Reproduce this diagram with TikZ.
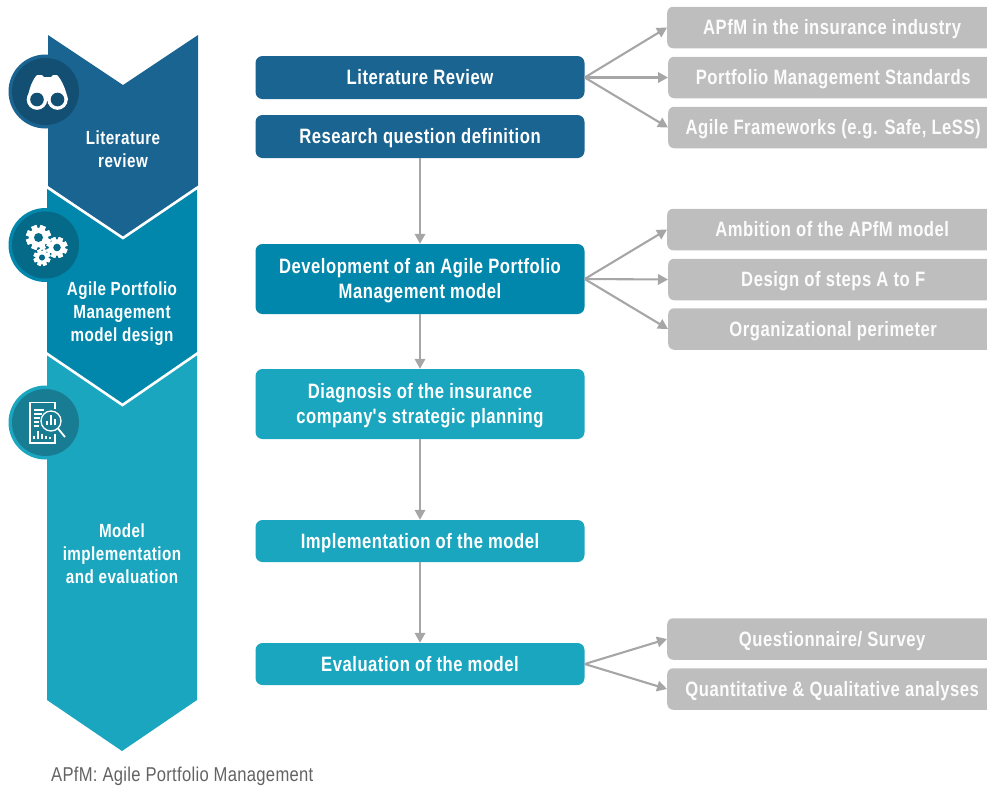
\documentclass[tikz,border=0pt]{standalone}
\usepackage{fontspec}
\setmainfont[FakeStretch=0.8,LetterSpace=2.5]{Liberation Sans}
\newfontfamily\notefont[FakeStretch=0.83,LetterSpace=1.5]{Liberation Sans}
\usetikzlibrary{arrows.meta}

\definecolor{navy}{HTML}{1A6491}
\definecolor{navydark}{HTML}{134F72}
\definecolor{petrol}{HTML}{0187AB}
\definecolor{petroldark}{HTML}{046A87}
\definecolor{teal}{HTML}{1BA6C0}
\definecolor{tealdark}{HTML}{187D92}
\definecolor{greybox}{HTML}{BEBEBE}
\definecolor{greyarrow}{HTML}{A6A6A6}
\definecolor{notegrey}{HTML}{636363}

\tikzset{
  textfit/.style = {text height = #1, text depth = 5.5},
  mainbox/.style = {textfit = 20, inner ysep = 0, rounded corners = 7, minimum width = 329, align = center, text = white, font = \fontsize{20.8}{25}\selectfont\bfseries},
  sidebox/.style = {textfit = 20, inner ysep = 0, rounded corners = 6, fill = greybox, minimum width = 330, minimum height = 41.5, text = white!95!greybox, font = \fontsize{20.8}{25}\selectfont\bfseries},
  phaselabel/.style = {inner ysep = 0, align = center, text = white, font = \fontsize{19}{23}\selectfont\bfseries},
  flow/.style = {draw = greyarrow, line width = 2.1, -{Triangle[length = 10, width = 10.5]}},
  gapline/.style = {draw = white, line width = 2.6}
}

% gear icon: centre, outer radius, background colour
\newcommand{\gearicon}[4]{
  \foreach \a in {0, 45, ..., 315}
    \fill[white, rotate around = {\a + 22.5 : (#1, #2)}] ({#1 - 0.22 * #3}, {#2 - #3}) rectangle ({#1 + 0.22 * #3}, {#2 + #3});
  \fill[white] (#1, #2) circle ({0.78 * #3});
  \fill[#4] (#1, #2) circle ({0.36 * #3});
}

\begin{document}
\begin{tikzpicture}[x = 1pt, y = -1pt]
\path[use as bounding box, clip] (0, 0) rectangle (987, 788);

% left column
\fill[teal] (47, 354) -- (122, 405) -- (197, 354) -- (197, 700) -- (122, 751) -- (47, 700) -- cycle;
\fill[petrol] (47, 187) -- (122.5, 238) -- (197, 187) -- (197, 353) -- (122, 404) -- (47, 353) -- cycle;
\fill[navy] (48, 35) -- (123, 85) -- (198, 35) -- (198, 186) -- (123, 237) -- (48, 186) -- cycle;
\draw[gapline] (46, 186.5) -- (123, 238) -- (199, 186.5);
\draw[gapline] (46, 353) -- (122.5, 405) -- (198, 353);

\node[phaselabel, textfit = 42.5] (phaseone) at (123, 148.5) {Literature\\review};
\node[phaselabel, textfit = 65.5] (phasetwo) at (122, 311) {Agile Portfolio\\Management\\model design};
\node[phaselabel, textfit = 65.5] (phasethree) at (122, 553) {Model\\implementation\\and evaluation};

% binoculars
\fill[navy] (45.5, 91.5) circle (37);
\fill[navydark] (45.5, 91.5) circle (33.5);
\fill[white] (27, 100) .. controls (29, 90) and (32, 80) .. (37, 75) -- (42, 75) -- (44, 77) -- (51, 77) -- (53, 75) -- (57, 75) .. controls (62, 80) and (66, 90) .. (68, 100) -- cycle;
\fill[white] (37, 99.5) circle (10.3) (57.5, 99.5) circle (10.3);
\fill[navydark] (37, 99.5) circle (6.8) (57.5, 99.5) circle (6.8);

% gears
\fill[petrol] (45.5, 245) circle (37);
\fill[petroldark] (45.5, 245) circle (33.5);
\gearicon{38.5}{237.5}{12.5}{petroldark}
\gearicon{57}{247.5}{10.5}{petroldark}
\gearicon{42}{257.5}{8.5}{petroldark}

% report with magnifier
\fill[teal] (45.5, 422.5) circle (37);
\fill[tealdark] (45.5, 422.5) circle (33.5);
\draw[white, line width = 1.3] (55, 409) -- (55, 402.5) -- (30, 402.5) -- (30, 443) -- (55, 443) -- (55, 434);
\draw[white, line width = 2] (34, 410) -- (44, 410) (34, 414) -- (42, 414) (34, 418) -- (40, 418) (34, 422) -- (39, 422) (34, 426) -- (39, 426);
\draw[white, line width = 1.3] (51, 421) circle (10);
\draw[white, line width = 1.8] (58, 428.5) -- (65, 437);
\draw[white, line width = 1.6] (47, 425) -- (47, 421) (51, 425) -- (51, 415) (55, 425) -- (55, 419);
\draw[white, line width = 1.6] (34, 439) -- (34, 436) (38, 439) -- (38, 431) (42, 439) -- (42, 434) (46, 439) -- (46, 436) (50, 439) -- (50, 437);

% main boxes
\node[mainbox, fill = navy, minimum height = 43] (litreview) at (420, 77.5) {Literature Review};
\node[mainbox, fill = navy, minimum height = 43] (question) at (420, 136.5) {Research question definition};
\node[mainbox, fill = petrol, minimum height = 70, textfit = 45] (development) at (420, 279) {Development of an Agile Portfolio\\Management model};
\node[mainbox, fill = teal, minimum height = 70, textfit = 45] (diagnosis) at (420, 404) {Diagnosis of the insurance\\company\textquotesingle s strategic planning};
\node[mainbox, fill = teal, minimum height = 42] (implementation) at (420, 541) {Implementation of the model};
\node[mainbox, fill = teal, minimum height = 42] (evaluation) at (420, 664) {Evaluation of the model};

% side boxes
\node[sidebox, anchor = west] (industry) at (667, 27.5) {APfM in the insurance industry};
\node[sidebox, anchor = west] (standards) at (668, 77.5) {Portfolio Management Standards};
\node[sidebox, anchor = west] (frameworks) at (668, 127.5) {Agile Frameworks (e.g. Safe, LeSS)};
\node[sidebox, anchor = west] (ambition) at (667, 229.5) {Ambition of the APfM model};
\node[sidebox, anchor = west] (design) at (668, 279.5) {Design of steps A to F};
\node[sidebox, anchor = west] (perimeter) at (668, 329) {Organizational perimeter};
\node[sidebox, anchor = west] (survey) at (667, 639) {Questionnaire/ Survey};
\node[sidebox, anchor = west] (analyses) at (667, 689) {Quantitative \& Qualitative analyses};

% connectors
\foreach \target in {industry, standards, frameworks}
  \draw[flow] (litreview.east) -- (\target.west);
\foreach \target in {ambition, design, perimeter}
  \draw[flow] (development.east) -- (\target.west);
\foreach \target in {survey, analyses}
  \draw[flow] (evaluation.east) -- (\target.west);
\draw[flow] (question) -- (development);
\draw[flow] (development) -- (diagnosis);
\draw[flow] (diagnosis) -- (implementation);
\draw[flow] (implementation) -- (evaluation);

\node[anchor = base west, inner sep = 0, text = notegrey, font = \notefont\fontsize{20}{22}\selectfont] (footnote) at (51, 781) {APfM: Agile Portfolio Management};
\end{tikzpicture}
\end{document}
